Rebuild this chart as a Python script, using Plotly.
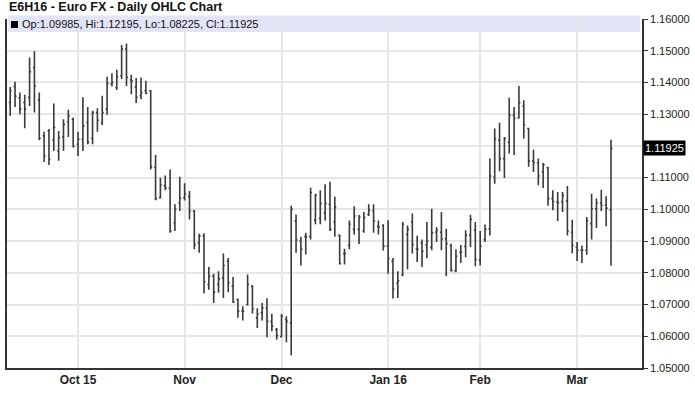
import pandas as pd
import plotly.graph_objects as go

# Trading calendar (CME, US holidays excluded)
holidays = ["2015-11-26", "2015-12-25", "2016-01-01", "2016-01-18", "2016-02-15"]
dates = [d.strftime("%Y-%m-%d") for d in pd.bdate_range("2015-09-11", "2016-03-10", freq="C", holidays=holidays)]

opens = [1.1337, 1.1387, 1.1351, 1.1337, 1.1353, 1.1447, 1.1345, 1.1232, 1.1247, 1.1218,
         1.1184, 1.1228, 1.1277, 1.1284, 1.1205, 1.1221, 1.1274, 1.1224, 1.1305, 1.1274,
         1.1316, 1.1395, 1.1384, 1.1421, 1.1505, 1.1408, 1.1386, 1.1358, 1.1374, 1.1374,
         1.1132, 1.1037, 1.1074, 1.1066, 1.0958, 1.1021, 1.1037, 1.1040, 1.0995, 1.0895,
         1.0916, 1.0763, 1.0789, 1.0763, 1.0784, 1.0837, 1.0758, 1.0716, 1.0679, 1.0700,
         1.0758, 1.0658, 1.0674, 1.0689, 1.0647, 1.0621, 1.0599, 1.0653, 1.0642, 1.0963,
         1.0900, 1.0914, 1.0914, 1.0966, 1.0972, 1.0989, 1.1016, 1.0960, 1.0918, 1.0861,
         1.0886, 1.0937, 1.0937, 1.0932, 1.0984, 1.0995, 1.0947, 1.0949, 1.0884, 1.0837,
         1.0768, 1.0794, 1.0921, 1.0960, 1.0876, 1.0894, 1.0888, 1.0881, 1.0928, 1.0928,
         1.0907, 1.0886, 1.0807, 1.0865, 1.0883, 1.0918, 1.0935, 1.0840, 1.0905, 1.0939,
         1.1102, 1.1218, 1.1160, 1.1211, 1.1297, 1.1288, 1.1326, 1.1255, 1.1152, 1.1147,
         1.1118, 1.1131, 1.1034, 1.1023, 1.1023, 1.1026, 1.0928, 1.0881, 1.0871, 1.0871,
         1.0955, 1.1002, 1.1020, 1.1013, 1.09985]
highs = [1.1386, 1.1402, 1.1368, 1.1361, 1.1479, 1.1498, 1.1368, 1.1245, 1.1253, 1.1334,
         1.1247, 1.1284, 1.1314, 1.1289, 1.1245, 1.1353, 1.1323, 1.1311, 1.1319, 1.1358,
         1.1418, 1.1429, 1.1440, 1.1518, 1.1523, 1.1424, 1.1414, 1.1416, 1.1405, 1.1376,
         1.1171, 1.1100, 1.1107, 1.1126, 1.1016, 1.1103, 1.1082, 1.1058, 1.0998, 1.0923,
         1.0925, 1.0818, 1.0797, 1.0805, 1.0861, 1.0847, 1.0787, 1.0719, 1.0695, 1.0795,
         1.0761, 1.0688, 1.0705, 1.0720, 1.0671, 1.0626, 1.0670, 1.0663, 1.1011, 1.0984,
         1.0914, 1.0926, 1.1068, 1.1049, 1.1060, 1.1079, 1.1087, 1.1040, 1.0921, 1.0876,
         1.0965, 1.1010, 1.0982, 1.0992, 1.1016, 1.1016, 1.0965, 1.0953, 1.0966, 1.0847,
         1.0805, 1.0960, 1.0949, 1.0987, 1.0917, 1.0905, 1.0960, 1.1002, 1.0944, 1.0992,
         1.0939, 1.0892, 1.0874, 1.0888, 1.0934, 1.0983, 1.0960, 1.0932, 1.0952, 1.1160,
         1.1255, 1.1273, 1.1228, 1.1352, 1.1323, 1.1389, 1.1344, 1.1257, 1.1188, 1.1160,
         1.1146, 1.1134, 1.1060, 1.1055, 1.1055, 1.1074, 1.0967, 1.0897, 1.0886, 1.0976,
         1.1049, 1.1034, 1.1062, 1.1041, 1.12195]
lows = [1.1295, 1.1323, 1.1300, 1.1256, 1.1326, 1.1305, 1.1218, 1.1149, 1.1140, 1.1184,
        1.1153, 1.1184, 1.1228, 1.1195, 1.1168, 1.1184, 1.1205, 1.1205, 1.1245, 1.1266,
        1.1298, 1.1387, 1.1376, 1.1411, 1.1389, 1.1363, 1.1335, 1.1347, 1.1363, 1.1126,
        1.1029, 1.1034, 1.1060, 1.0926, 1.0932, 1.0995, 1.1028, 1.0968, 1.0874, 1.0863,
        1.0735, 1.0747, 1.0705, 1.0737, 1.0721, 1.0739, 1.0705, 1.0658, 1.0650, 1.0697,
        1.0672, 1.0626, 1.0650, 1.0597, 1.0616, 1.0589, 1.0597, 1.0581, 1.0540, 1.0863,
        1.0823, 1.0858, 1.0905, 1.0953, 1.0953, 1.0965, 1.0932, 1.0914, 1.0826, 1.0826,
        1.0874, 1.0921, 1.0891, 1.0926, 1.0979, 1.0926, 1.0921, 1.0870, 1.0797, 1.0719,
        1.0721, 1.0789, 1.0811, 1.0861, 1.0834, 1.0818, 1.0846, 1.0871, 1.0897, 1.0871,
        1.0789, 1.0804, 1.0802, 1.0831, 1.0849, 1.0881, 1.0821, 1.0823, 1.0897, 1.0918,
        1.1081, 1.1120, 1.1099, 1.1176, 1.1171, 1.1286, 1.1223, 1.1134, 1.1118, 1.1076,
        1.1067, 1.1011, 1.0997, 1.0963, 1.0992, 1.0918, 1.0862, 1.0837, 1.0831, 1.0857,
        1.0905, 1.0941, 1.0995, 1.0947, 1.08225]
closes = [1.1374, 1.1356, 1.1316, 1.1316, 1.1434, 1.1389, 1.1224, 1.1168, 1.1158, 1.1258,
          1.1226, 1.1268, 1.1295, 1.1198, 1.1221, 1.1263, 1.1211, 1.1305, 1.1281, 1.1305,
          1.1397, 1.1400, 1.1418, 1.1505, 1.1416, 1.1405, 1.1353, 1.1368, 1.1365, 1.1134,
          1.1034, 1.1077, 1.1068, 1.0932, 1.1000, 1.1035, 1.1049, 1.0995, 1.0889, 1.0916,
          1.0772, 1.0789, 1.0739, 1.0781, 1.0823, 1.0768, 1.0708, 1.0679, 1.0679, 1.0763,
          1.0686, 1.0671, 1.0689, 1.0647, 1.0632, 1.0602, 1.0663, 1.0647, 1.1000, 1.0903,
          1.0874, 1.0914, 1.1053, 1.1044, 1.1019, 1.1018, 1.0937, 1.1008, 1.0829, 1.0861,
          1.0953, 1.0979, 1.0976, 1.0974, 1.0998, 1.0963, 1.0944, 1.0884, 1.0845, 1.0749,
          1.0775, 1.0953, 1.0937, 1.0889, 1.0874, 1.0868, 1.0899, 1.0926, 1.0934, 1.0907,
          1.0892, 1.0807, 1.0852, 1.0865, 1.0918, 1.0968, 1.0842, 1.0885, 1.0937, 1.1105,
          1.1223, 1.1160, 1.1223, 1.1297, 1.1288, 1.1336, 1.1265, 1.1152, 1.1147, 1.1105,
          1.1141, 1.1034, 1.1025, 1.1021, 1.1044, 1.0932, 1.0886, 1.0871, 1.0871, 1.0965,
          1.1002, 1.1020, 1.1013, 1.1004, 1.11925]

month_tick_dates = ["2015-10-01", "2015-11-02", "2015-12-01", "2016-01-04", "2016-02-01", "2016-03-01"]
month_tick_labels = ["Oct 15", "Nov", "Dec", "Jan 16", "Feb", "Mar"]

price_ticks = [1.05, 1.06, 1.07, 1.08, 1.09, 1.10, 1.11, 1.12, 1.13, 1.14, 1.15, 1.16]
last_close = closes[-1]

W, H = 695, 399
ML, MR, MT, MB = 5, 52, 19, 31
plot_w = W - ML - MR
plot_h = H - MT - MB

bar_color = "#3a3a3a"
fig = go.Figure(go.Ohlc(
    x=dates, open=opens, high=highs, low=lows, close=closes,
    increasing=dict(line=dict(color=bar_color, width=1.6)),
    decreasing=dict(line=dict(color=bar_color, width=1.6)),
    tickwidth=0.3, hoverinfo="skip", showlegend=False,
))

font_main = "Liberation Sans, Arial, sans-serif"
ticktext_y = ["" if abs(v - 1.12) < 1e-9 else f"{v:.5f}" for v in price_ticks]

fig.update_layout(
    width=W, height=H,
    margin=dict(l=ML, r=MR, t=MT, b=MB, pad=0),
    paper_bgcolor="white", plot_bgcolor="white",
    font=dict(family=font_main, size=11, color="#222"),
    xaxis=dict(
        type="category", range=[-0.66, 130.4], rangeslider=dict(visible=False),
        tickmode="array", tickvals=month_tick_dates,
        ticktext=[f"<b>{t}</b>" for t in month_tick_labels],
        tickfont=dict(family="Liberation Sans Narrow, Liberation Sans, Arial", size=12, color="#222"),
        showgrid=True, gridcolor="#e6e6e6", gridwidth=2,
        showline=True, linecolor="#333", linewidth=1.5, ticks="",
        fixedrange=True, zeroline=False,
    ),
    yaxis=dict(
        side="right", range=[1.05, 1.16], tickmode="array", tickvals=price_ticks,
        ticktext=ticktext_y, showgrid=True, gridcolor="#e6e6e6", gridwidth=2,
        showline=True, mirror=True, linecolor="#333", linewidth=1.5,
        ticks="outside", ticklen=4, tickcolor="#333", tickwidth=1,
        tickfont=dict(family=font_main, size=11, color="#222"),
        zeroline=False, fixedrange=True,
    ),
    shapes=[
        dict(type="rect", xref="paper", yref="paper",
             x0=0.002, x1=0.997, y0=1 - 13.0 / plot_h, y1=1 + 3.5 / plot_h,
             fillcolor="#e4e4f8", line=dict(width=0), layer="between"),
        dict(type="rect", xref="paper", yref="paper",
             x0=4.0 / plot_w, x1=11.0 / plot_w, y0=1 - 9.0 / plot_h, y1=1 - 2.0 / plot_h,
             fillcolor="#000", line=dict(width=0), layer="above"),
    ],
    annotations=[
        dict(text="<b>E6H16 - Euro FX - Daily OHLC Chart</b>", xref="paper", yref="paper",
             x=0, y=1 + (MT - 7.5) / plot_h, xanchor="left", yanchor="middle", showarrow=False,
             font=dict(family=font_main, size=12.5, color="#111")),
        dict(text=f"Op:{opens[-1]:.5f}, Hi:{highs[-1]:.5f}, Lo:{lows[-1]:.5f}, Cl:{closes[-1]:.5f}",
             xref="paper", yref="paper", x=0, xshift=13, y=1 - 5.0 / plot_h,
             xanchor="left", yanchor="middle", showarrow=False,
             font=dict(family=font_main, size=11, color="#111")),
        dict(text=f"{last_close:.5f}", xref="paper", yref="y", x=1, xshift=1, y=last_close,
             xanchor="left", yanchor="middle", showarrow=False, bgcolor="#000",
             borderpad=1, font=dict(family=font_main, size=11, color="#fff")),
    ],
)

fig.write_html("out.html", config={"displayModeBar": False})
